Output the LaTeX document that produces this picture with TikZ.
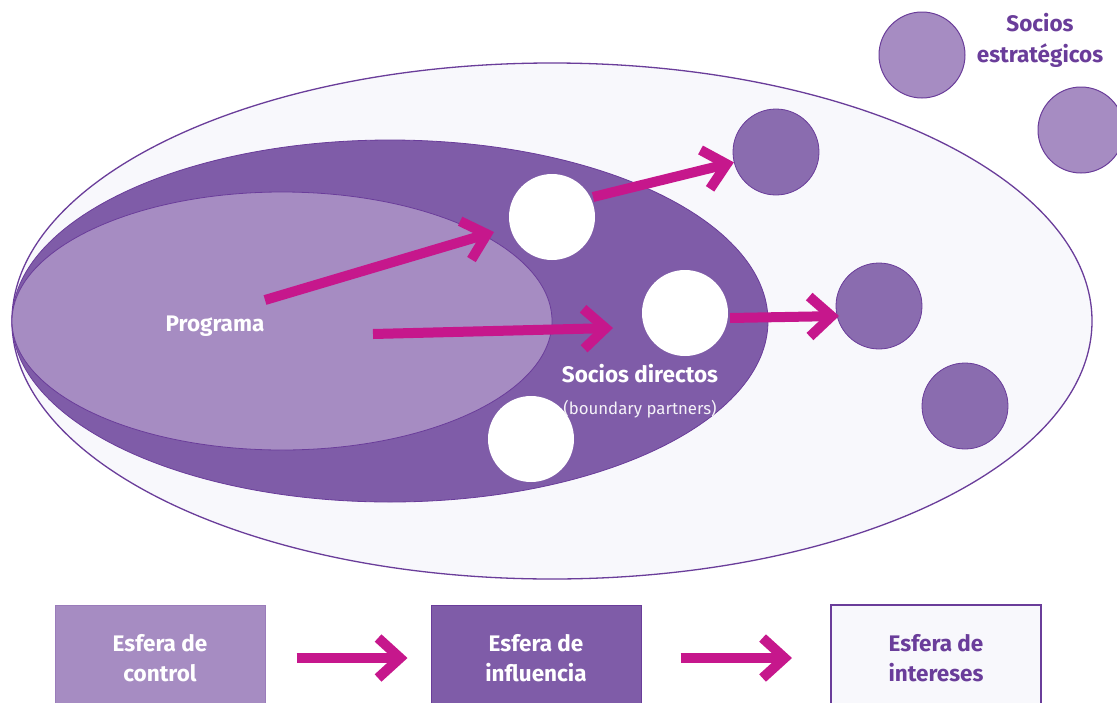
\documentclass[tikz,border=0pt]{standalone}
\usepackage{fontspec}
\setmainfont{Fira Sans}
\usetikzlibrary{arrows.meta}
\definecolor{lightp}{HTML}{A68CC2}
\definecolor{darkp}{HTML}{7F5CA8}
\definecolor{circp}{HTML}{8A6CAF}
\definecolor{paleb}{HTML}{F8F8FC}
\definecolor{bord}{HTML}{6A3D9A}
\definecolor{mag}{HTML}{C6178C}
\tikzset{
  ell/.style={draw=bord, line width=1.3pt},
  wcirc/.style={circle, fill=white, minimum size=86pt, inner sep=0pt},
  dcirc/.style={circle, draw=bord, line width=0.8pt, fill=circp, minimum size=86pt, inner sep=0pt},
  lcirc/.style={circle, draw=bord, line width=1pt, fill=lightp, minimum size=86pt, inner sep=0pt},
  marrow/.style={draw=mag, line width=10pt, -{Straight Barb[length=22pt,width=40pt]}},
  wlabel/.style={text=white, font=\bfseries\fontsize{22.5}{26}\selectfont, align=center},
  plabel/.style={text=bord, font=\bfseries\fontsize{22.5}{31}\selectfont, align=center},
  sbox/.style={minimum width=210pt, minimum height=106pt, inner sep=0pt, align=center, font=\bfseries\fontsize{22.5}{30}\selectfont},
}
\begin{document}
\begin{tikzpicture}[x=1pt,y=-1pt]
\clip (0,0) rectangle (1117,702);
\fill[white] (0,0) rectangle (1117,702);
% ellipses
\draw[ell, fill=paleb] (552,321) ellipse [x radius=540, y radius=258];
\draw[ell, fill=darkp, line width=0.8pt] (390,321) ellipse [x radius=378, y radius=181];
\draw[ell, fill=lightp, line width=0.8pt] (282,321) ellipse [x radius=270, y radius=129];
% circles
\node[wcirc] (w1) at (552,217) {};
\node[wcirc] (w2) at (685,313) {};
\node[wcirc] (w3) at (531,439) {};
\node[dcirc] (d1) at (776,152) {};
\node[dcirc] (d2) at (879,306) {};
\node[dcirc] (d3) at (965,406) {};
\node[lcirc] (l1) at (922,55) {};
\node[lcirc] (l2) at (1081,130) {};
% labels
\node[wlabel] (prog) at (215,326) {Programa};
\node[wlabel] (sd) at (640,374) {Socios directos};
\node[text=white!92!darkp, font=\fontsize{16.8}{20}\selectfont] (bp) at (640,409) {(boundary partners)};
\node[plabel] (se) at (1040,40) {Socios\\estratégicos};
% arrows
\coordinate (a1s) at (265,300);
\coordinate (a1e) at (494,232);
\coordinate (a2s) at (373,334);
\coordinate (a2e) at (613,328);
\coordinate (a3s) at (593,197);
\coordinate (a4s) at (730,318);
\coordinate (a4e) at (839,316);
\draw[marrow] (a1s) -- (a1e);
\draw[marrow] (a2s) -- (a2e);
\draw[marrow] (a3s) -- (d1);
\draw[marrow] (a4s) -- (a4e);
% bottom boxes
\node[sbox, fill=lightp, draw=lightp!80!bord, line width=1pt, text=white] (b1) at (160,658) {Esfera de\\control};
\node[sbox, fill=darkp, draw=bord, line width=1pt, text=white] (b2) at (536,658) {Esfera de\\influencia};
\node[sbox, fill=paleb, draw=bord, line width=2pt, text=bord] (b3) at (936,658) {Esfera de\\intereses};
\draw[marrow, shorten <=31pt, shorten >=23pt] (b1) -- (b2);
\draw[marrow, shorten <=39pt, shorten >=38pt] (b2) -- (b3);
\end{tikzpicture}
\end{document}
